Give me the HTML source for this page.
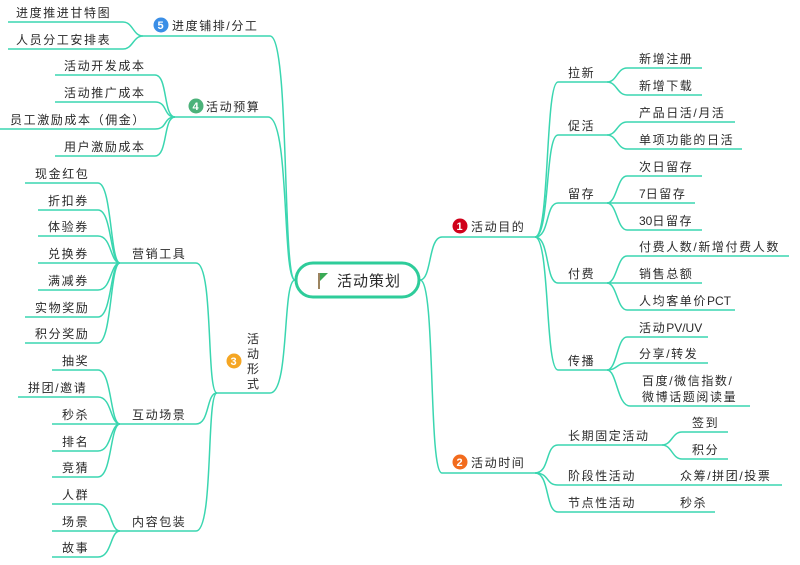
<!DOCTYPE html>
<html><head><meta charset="utf-8"><style>
html,body{margin:0;padding:0;background:#fff;width:800px;height:565px;overflow:hidden}
svg text{font-family:"Liberation Sans","Noto Sans CJK SC",sans-serif;font-size:12px;fill:#2a2a2a;letter-spacing:1.6px}
svg tspan.n{letter-spacing:0}
.l{fill:none;stroke:#3ad6b0;stroke-width:1.5}
.b{fill:#fff;font-size:11px;letter-spacing:0;font-weight:bold}
</style></head><body>
<svg width="800" height="565" viewBox="0 0 800 565" xmlns="http://www.w3.org/2000/svg">
<path class="l" d="M420,280 C432,280 428,237 442,237 L535,237"/>
<path class="l" d="M420,280 C436,280 428,473 442,473 L535,473"/>
<path class="l" d="M535,237 C550,237 545,82 558,82 L607,82"/>
<path class="l" d="M535,237 C550,237 545,135 558,135 L607,135"/>
<path class="l" d="M535,237 C550,237 545,203 558,203 L607,203"/>
<path class="l" d="M535,237 C550,237 545,283 558,283 L607,283"/>
<path class="l" d="M535,237 C550,237 545,370 558,370 L607,370"/>
<path class="l" d="M607,82 C617,82 617,68 627,68 L702,68"/>
<path class="l" d="M607,82 C617,82 617,95 627,95 L702,95"/>
<path class="l" d="M607,135 C617,135 617,122 627,122 L735,122"/>
<path class="l" d="M607,135 C617,135 617,149 627,149 L742,149"/>
<path class="l" d="M607,203 C617,203 617,176 627,176 L702,176"/>
<path class="l" d="M607,203 L695,203"/>
<path class="l" d="M607,203 C617,203 617,230 627,230 L702,230"/>
<path class="l" d="M607,283 C617,283 617,256 627,256 L789,256"/>
<path class="l" d="M607,283 L702,283"/>
<path class="l" d="M607,283 C617,283 617,310 627,310 L735,310"/>
<path class="l" d="M607,370 C617,370 617,337 627,337 L708,337"/>
<path class="l" d="M607,370 C617,370 617,363 627,363 L708,363"/>
<path class="l" d="M607,370 C617,370 617,406 630,406 L750,406"/>
<path class="l" d="M535,473 C550,473 545,445 558,445 L662,445"/>
<path class="l" d="M535,473 C550,473 545,485 558,485 L782,485"/>
<path class="l" d="M535,473 C550,473 545,512 558,512 L715,512"/>
<path class="l" d="M662,445 C672,445 672,432 682,432 L728,432"/>
<path class="l" d="M662,445 C672,445 672,459 682,459 L728,459"/>
<path class="l" d="M295,280 C282,280 290,36 270,36 L143,36"/>
<path class="l" d="M295,280 C282,280 290,117 268,117 L175,117"/>
<path class="l" d="M295,280 C282,280 290,393 270,393 L217,393"/>
<path class="l" d="M143,36 C133,36 133,22 123,22 L8,22"/>
<path class="l" d="M143,36 C133,36 133,49 123,49 L8,49"/>
<path class="l" d="M175,117 C163,117 168,75 155,75 L55,75"/>
<path class="l" d="M175,117 C163,117 168,102 155,102 L55,102"/>
<path class="l" d="M175,117 C163,117 168,129 155,129 L0,129"/>
<path class="l" d="M175,117 C163,117 168,156 155,156 L55,156"/>
<path class="l" d="M217,393 C206,393 214,263 196,263 L120,263"/>
<path class="l" d="M217,393 C206,393 210,424 196,424 L120,424"/>
<path class="l" d="M217,393 C206,393 214,531 196,531 L120,531"/>
<path class="l" d="M120,263 C110,263 112,183 98,183 L25,183"/>
<path class="l" d="M120,263 C110,263 112,210 98,210 L38,210"/>
<path class="l" d="M120,263 C110,263 112,236 98,236 L38,236"/>
<path class="l" d="M120,263 L38,263"/>
<path class="l" d="M120,263 C110,263 112,290 98,290 L38,290"/>
<path class="l" d="M120,263 C110,263 112,317 98,317 L25,317"/>
<path class="l" d="M120,263 C110,263 112,343 98,343 L25,343"/>
<path class="l" d="M120,424 C110,424 112,370 98,370 L52,370"/>
<path class="l" d="M120,424 C110,424 112,397 98,397 L18,397"/>
<path class="l" d="M120,424 L52,424"/>
<path class="l" d="M120,424 C110,424 112,451 98,451 L52,451"/>
<path class="l" d="M120,424 C110,424 112,477 98,477 L52,477"/>
<path class="l" d="M120,531 C110,531 112,504 98,504 L52,504"/>
<path class="l" d="M120,531 L52,531"/>
<path class="l" d="M120,531 C110,531 112,557 98,557 L52,557"/>
<rect x="296" y="263" width="123" height="34" rx="17" fill="#fff" stroke="#2ecc9a" stroke-width="3"/>
<line x1="319" y1="273" x2="319" y2="289" stroke="#7a5a2a" stroke-width="1.5"/>
<path d="M320,273 L328,273 L320,281 Z" fill="#3aaa55"/>
<text x="337" y="286" style="font-size:15px;letter-spacing:1px">活动策划</text>
<circle cx="460" cy="226" r="7.5" fill="#d0021b"/><text class="b" x="456.5" y="230" style="fill:#fff">1</text>
<circle cx="460" cy="462" r="7.5" fill="#f26b1d"/><text class="b" x="456.5" y="466" style="fill:#fff">2</text>
<circle cx="234" cy="361" r="7.5" fill="#f5a623"/><text class="b" x="230.5" y="365" style="fill:#fff">3</text>
<circle cx="196" cy="106" r="7.5" fill="#4cb27a"/><text class="b" x="192.5" y="110" style="fill:#fff">4</text>
<circle cx="161" cy="25" r="7.5" fill="#3a8ee6"/><text class="b" x="157.5" y="29" style="fill:#fff">5</text>
<text x="471" y="231">活动目的</text>
<text x="471" y="467">活动时间</text>
<text x="568" y="77">拉新</text>
<text x="568" y="130">促活</text>
<text x="568" y="198">留存</text>
<text x="568" y="278">付费</text>
<text x="568" y="365">传播</text>
<text x="639" y="63">新增注册</text>
<text x="639" y="90">新增下载</text>
<text x="639" y="117">产品日活/月活</text>
<text x="639" y="144">单项功能的日活</text>
<text x="639" y="171">次日留存</text>
<text x="639" y="198"><tspan class="n">7</tspan>日留存</text>
<text x="639" y="225"><tspan class="n">30</tspan>日留存</text>
<text x="639" y="251">付费人数/新增付费人数</text>
<text x="639" y="278">销售总额</text>
<text x="639" y="305">人均客单价<tspan class="n">PCT</tspan></text>
<text x="639" y="332">活动<tspan class="n">PV/UV</tspan></text>
<text x="639" y="358">分享/转发</text>
<text x="642" y="385">百度/微信指数/</text>
<text x="642" y="401">微博话题阅读量</text>
<text x="568" y="440">长期固定活动</text>
<text x="568" y="480">阶段性活动</text>
<text x="568" y="507">节点性活动</text>
<text x="692" y="427">签到</text>
<text x="692" y="454">积分</text>
<text x="680" y="480">众筹/拼团/投票</text>
<text x="680" y="507">秒杀</text>
<text x="172" y="30">进度铺排/分工</text>
<text x="206" y="111">活动预算</text>
<text x="16" y="17">进度推进甘特图</text>
<text x="16" y="44">人员分工安排表</text>
<text x="64" y="70">活动开发成本</text>
<text x="64" y="97">活动推广成本</text>
<text x="10" y="124">员工激励成本（佣金）</text>
<text x="64" y="151">用户激励成本</text>
<text x="247" y="343">活</text>
<text x="247" y="358">动</text>
<text x="247" y="373">形</text>
<text x="247" y="388">式</text>
<text x="132" y="258">营销工具</text>
<text x="132" y="419">互动场景</text>
<text x="132" y="526">内容包装</text>
<text x="35" y="178">现金红包</text>
<text x="48" y="205">折扣券</text>
<text x="48" y="231">体验券</text>
<text x="48" y="258">兑换券</text>
<text x="48" y="285">满减券</text>
<text x="35" y="312">实物奖励</text>
<text x="35" y="338">积分奖励</text>
<text x="62" y="365">抽奖</text>
<text x="28" y="392">拼团/邀请</text>
<text x="62" y="419">秒杀</text>
<text x="62" y="446">排名</text>
<text x="62" y="472">竞猜</text>
<text x="62" y="499">人群</text>
<text x="62" y="526">场景</text>
<text x="62" y="552">故事</text>
</svg>
</body></html>
